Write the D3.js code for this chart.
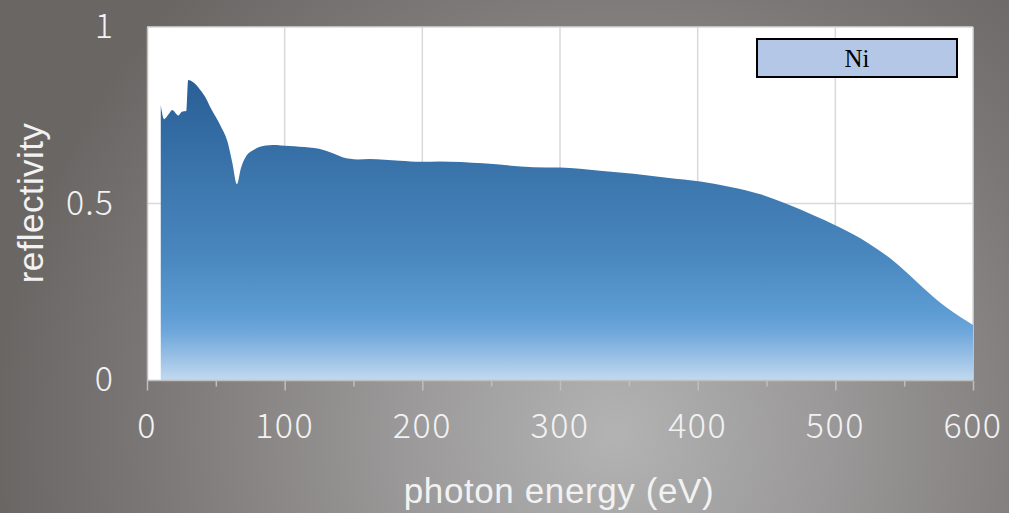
<!DOCTYPE html>
<html>
<head>
<meta charset="utf-8">
<script src="https://cdn.jsdelivr.net/npm/d3@7"></script>
<style>
  html, body { margin: 0; padding: 0; background: #7a7776; }
  svg { display: block; }
</style>
</head>
<body>
<svg id="chart" width="1009" height="513"></svg>
<script>
// Ni mirror reflectivity versus photon energy
const energy = [10, 12.4, 15.5, 18.4, 21, 22.8, 25.3, 28.6, 29.9, 33, 36, 39, 43, 46.4, 50, 53.7, 58.5, 62, 65.3, 68.2, 71.9, 78, 86.4, 91.3, 103.4, 110.7, 125, 135, 142, 153, 161.6, 183.5, 199.3, 212.6, 244, 280.6, 300, 329, 353.4, 377.7, 402, 423.8, 445.6, 464, 484.5, 500.3, 518.5, 530, 542.7, 557.3, 567, 581.6, 600];
const reflectivity = [0.779, 0.739, 0.752, 0.765, 0.755, 0.749, 0.760, 0.762, 0.850, 0.845, 0.835, 0.82, 0.797, 0.77, 0.745, 0.718, 0.675, 0.615, 0.555, 0.60, 0.633, 0.653, 0.664, 0.666, 0.663, 0.661, 0.655, 0.642, 0.631, 0.625, 0.626, 0.621, 0.618, 0.619, 0.614, 0.603, 0.602, 0.593, 0.584, 0.573, 0.562, 0.547, 0.526, 0.50, 0.466, 0.438, 0.401, 0.372, 0.336, 0.285, 0.250, 0.203, 0.156];
const xTicks = [0, 100, 200, 300, 400, 500, 600];
const xMinorTicks = [50, 150, 250, 350, 450, 550];
const yTicks = [0, 0.5, 1];
const yTickLabels = ["0", "0.5", "1"];
const seriesName = "Ni";
const xTitle = "photon energy (eV)";
const yTitle = "reflectivity";

const W = 1009, H = 513;
const plot = { left: 147, right: 973, top: 27, bottom: 380 };

const svg = d3.select("#chart");
const defs = svg.append("defs");

// backdrop: dark grey with a soft light spot low in the middle
const bg = defs.append("radialGradient").attr("id", "bg")
  .attr("gradientUnits", "userSpaceOnUse")
  .attr("cx", 615).attr("cy", 435).attr("r", 620);
bg.append("stop").attr("offset", 0).attr("stop-color", "#b3b3b3");
bg.append("stop").attr("offset", 0.35).attr("stop-color", "#9a9898");
bg.append("stop").attr("offset", 0.75).attr("stop-color", "#7b7776");
bg.append("stop").attr("offset", 1).attr("stop-color", "#6a6664");
svg.append("rect").attr("width", W).attr("height", H).attr("fill", "url(#bg)");

// area fill: deep blue on top fading to pale blue at the baseline
const fillGrad = defs.append("linearGradient").attr("id", "fillGrad")
  .attr("gradientUnits", "userSpaceOnUse")
  .attr("x1", 0).attr("x2", 0).attr("y1", 80).attr("y2", 380);
[[0, "#285f96"], [0.3, "#3a74aa"], [0.6, "#4a88c0"], [0.78, "#5e9cd4"], [0.84, "#6ea7db"], [0.92, "#97bfe5"], [1, "#c2d9ef"]]
  .forEach(([o, c]) => fillGrad.append("stop").attr("offset", o).attr("stop-color", c));

const x = d3.scaleLinear().domain([0, 600]).range([plot.left, plot.right]);
const y = d3.scaleLinear().domain([0, 1]).range([plot.bottom, plot.top]);

// plot area
svg.append("rect")
  .attr("x", plot.left).attr("y", plot.top)
  .attr("width", plot.right - plot.left).attr("height", plot.bottom - plot.top)
  .attr("fill", "#ffffff");

// gridlines
const grid = svg.append("g").attr("stroke", "#d9d9d9").attr("stroke-width", 1.5);
grid.selectAll("line.v").data(xTicks.filter(d => d > 0)).join("line")
  .attr("x1", d => x(d)).attr("x2", d => x(d))
  .attr("y1", plot.top).attr("y2", plot.bottom);
grid.selectAll("line.h").data(yTicks.filter(d => d > 0)).join("line")
  .attr("x1", plot.left).attr("x2", plot.right)
  .attr("y1", d => y(d)).attr("y2", d => y(d));

// reflectivity area
const data = energy.map((e, i) => ({ e, r: reflectivity[i] }));
const area = d3.area()
  .x(d => x(d.e)).y0(y(0)).y1(d => y(d.r))
  .curve(d3.curveMonotoneX);
svg.append("path").datum(data).attr("d", area).attr("fill", "url(#fillGrad)");

// axes
const axisColor = "#bfbfbf";
const xAxis = svg.append("g").attr("transform", `translate(0,${plot.bottom + 0.5})`)
  .call(d3.axisBottom(x).tickValues(xTicks).tickSize(10).tickFormat(""));
xAxis.select(".domain").attr("stroke", axisColor).attr("stroke-width", 1.5).attr("d", `M${plot.left},0H${plot.right}`);
xAxis.selectAll(".tick line").attr("stroke", axisColor).attr("stroke-width", 1.5);
const xMinor = svg.append("g").attr("transform", `translate(0,${plot.bottom + 0.5})`)
  .call(d3.axisBottom(x).tickValues(xMinorTicks).tickSize(6).tickFormat(""));
xMinor.select(".domain").remove();
xMinor.selectAll(".tick line").attr("stroke", axisColor).attr("stroke-width", 1.5);

const yAxis = svg.append("g").attr("transform", `translate(${plot.left},0)`)
  .call(d3.axisLeft(y).tickValues(yTicks).tickSize(0).tickFormat(""));
yAxis.select(".domain").attr("stroke", axisColor).attr("stroke-width", 1.5);

// tick labels
const tickFont = "'Noto Sans CJK JP', 'Noto Sans', sans-serif";
svg.append("g").selectAll("text").data(xTicks).join("text")
  .attr("x", d => x(d)).attr("y", 438)
  .attr("text-anchor", "middle")
  .attr("font-family", tickFont).attr("font-weight", 300)
  .attr("font-size", 34).attr("letter-spacing", 1.5)
  .attr("fill", "#f2f2f2")
  .text(d => d);
svg.append("g").selectAll("text").data(yTicks).join("text")
  .attr("x", 114).attr("y", d => y(d) + 11)
  .attr("text-anchor", "end")
  .attr("font-family", tickFont).attr("font-weight", 300)
  .attr("font-size", 34).attr("letter-spacing", 1)
  .attr("fill", "#f2f2f2")
  .text((d, i) => yTickLabels[i]);

// axis titles
const titleFont = "'Liberation Sans', Arial, sans-serif";
svg.append("text")
  .attr("x", 559).attr("y", 503)
  .attr("text-anchor", "middle")
  .attr("font-family", titleFont).attr("font-size", 35).attr("letter-spacing", 0.6)
  .attr("fill", "#f2f2f2")
  .text(xTitle);
svg.append("text")
  .attr("transform", "translate(43,203) rotate(-90)")
  .attr("text-anchor", "middle")
  .attr("font-family", titleFont).attr("font-size", 35).attr("letter-spacing", 0.4)
  .attr("fill", "#f2f2f2")
  .text(yTitle);

// legend box
const legend = svg.append("g");
legend.append("rect")
  .attr("x", 757).attr("y", 39).attr("width", 200).attr("height", 38)
  .attr("fill", "#b4c7e7").attr("stroke", "#000").attr("stroke-width", 2);
legend.append("text")
  .attr("x", 857).attr("y", 67)
  .attr("text-anchor", "middle")
  .attr("font-family", "'Liberation Serif', 'Times New Roman', serif")
  .attr("font-size", 25).attr("fill", "#000")
  .text(seriesName);
</script>
</body>
</html>
